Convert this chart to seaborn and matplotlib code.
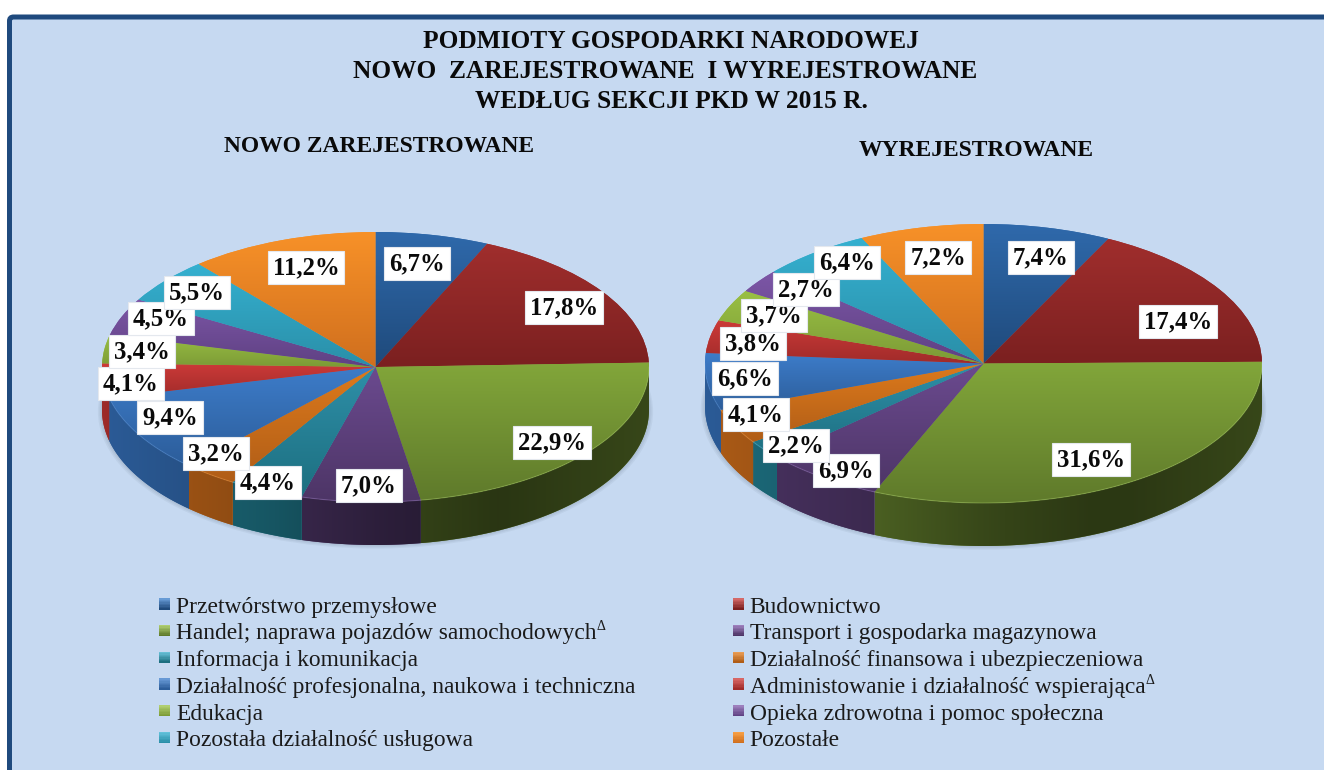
import numpy as np
import matplotlib
matplotlib.use("Agg")
import matplotlib.pyplot as plt
import matplotlib.patches as mp
from matplotlib.path import Path
from matplotlib.legend_handler import HandlerBase
from matplotlib.colors import to_rgb
import seaborn as sns

# ---------- data ----------
sections = ["Przetwórstwo przemysłowe", "Budownictwo",
            "Handel; naprawa pojazdów samochodowych", "Transport i gospodarka magazynowa",
            "Informacja i komunikacja", "Działalność finansowa i ubezpieczeniowa",
            "Działalność profesjonalna, naukowa i techniczna", "Administowanie i działalność wspierająca",
            "Edukacja", "Opieka zdrowotna i pomoc społeczna",
            "Pozostała działalność usługowa", "Pozostałe"]
registered = [6.7, 17.8, 22.9, 7.0, 4.4, 3.2, 9.4, 4.1, 3.4, 4.5, 5.5, 11.2]
deregistered = [7.4, 17.4, 31.6, 6.9, 2.2, 4.1, 6.6, 3.8, 3.7, 2.7, 6.4, 7.2]
title_lines = ["PODMIOTY GOSPODARKI NARODOWEJ", "NOWO  ZAREJESTROWANE  I WYREJESTROWANE", "WEDŁUG SEKCJI PKD W 2015 R."]
sub_left = "NOWO ZAREJESTROWANE"
sub_right = "WYREJESTROWANE"
footnote_mark = "Δ"

# ---------- styles ----------
top_cols = ["#2f69ab", "#a02e2d", "#82a63a", "#6b4a8f", "#2e8fa8", "#dd7a1c",
            "#3d7cc9", "#cc3a38", "#99bf44", "#7c56a6", "#35b0d0", "#f79128"]
bot_cols = ["#1f4a7b", "#7b2020", "#5f7a2b", "#4d3566", "#1d6f80", "#b05d17",
            "#2c5d9a", "#a02b2a", "#7c9b36", "#5f4183", "#2a8fa8", "#d06f1e"]
BG = "#C6D9F1"
FRAME = "#1F4A7E"
W, H = 1324, 770
pos_left = [(417, 261), (564, 305), (552, 440), (369, 483), (268, 480), (216, 451),
            (170, 415), (131, 381), (142, 349), (161, 316), (197, 290), (306, 265)]
pos_right = [(1041, 255), (1178, 319), (1091, 457), (846, 468), (796, 443), (756, 412),
             (745, 376), (753, 341), (774, 313), (806, 287), (847, 260), (938, 255)]
mark_pos = [(601, 627), (1150, 681)]

sns.set_theme(style="white")
plt.rcParams["font.family"] = ["Liberation Serif", "DejaVu Serif"]

fig = plt.figure(figsize=(W / 100, H / 100), dpi=100, facecolor="white")


def px_axes(z):
    a = fig.add_axes([0, 0, 1, 1], zorder=z)
    a.set_xlim(0, W)
    a.set_ylim(H, 0)
    a.axis("off")
    return a


back = px_axes(0)
front = px_axes(10)
back.add_patch(mp.FancyBboxPatch((9.5, 17), W + 40, H + 40, boxstyle="round,pad=0,rounding_size=4",
                                 fc=BG, ec=FRAME, lw=3.6))


def wall_factor(x):
    return np.interp(x, [-1, -0.4, 0.0, 0.45, 1], [0.98, 0.78, 0.58, 0.44, 0.58])


def gradient(ax, stops, extent, clip, z, vertical=True):
    pal = np.array(sns.blend_palette(stops, 64))
    arr = pal[:, None, :] if vertical else pal[None, :, :]
    im = ax.imshow(arr, extent=extent, origin="upper", aspect="auto",
                   interpolation="bilinear", zorder=z)
    im.set_clip_path(clip)


def pie3d(values, cx, cy, rx, ry, depth):
    d = depth / ry
    ax = fig.add_axes([(cx - rx) / W, 1 - (cy + ry + depth) / H, 2 * rx / W, (2 * ry + depth) / H], zorder=5)
    wedges, _ = ax.pie(values, startangle=90, counterclock=False, colors=top_cols, radius=1,
                       wedgeprops=dict(linewidth=0, zorder=3))
    for k in range(4):
        ax.add_patch(mp.Ellipse((0, -d - 0.004 * k), 2 + 0.01 * k, 2 + 0.01 * k, fc="#203040",
                                alpha=0.05, lw=0, zorder=1, clip_on=False))
    for i, w in enumerate(wedges):
        b = w.get_patch_transform().transform_path(w.get_path()).get_extents()
        gradient(ax, [top_cols[i], bot_cols[i]], (b.x0, b.x1, b.y0, b.y1), w, 3.5)
        for k in (-1, 0, 1):
            lo = max(w.theta1, 180 + 360 * k)
            hi = min(w.theta2, 360 + 360 * k)
            if hi <= lo:
                continue
            t = np.radians(np.linspace(lo, hi, 80))
            x, y = np.cos(t), np.sin(t)
            verts = np.r_[np.c_[x, y], np.c_[x[::-1], y[::-1] - d], [[x[0], y[0]]]]
            codes = [Path.MOVETO] + [Path.LINETO] * (len(verts) - 2) + [Path.CLOSEPOLY]
            patch = mp.PathPatch(Path(verts, codes), fc=bot_cols[i], lw=0, zorder=2)
            ax.add_patch(patch)
            base = np.array(to_rgb(bot_cols[i]))
            xs = np.linspace(x.min(), x.max(), 10)
            stops = [tuple(base * wall_factor(v)) for v in xs]
            gradient(ax, stops, (x.min(), x.max(), (y - d).min(), y.max()), patch, 2.5, vertical=False)
            ax.plot(x, y, color=sns.set_hls_values(top_cols[i], l=0.6), lw=0.8, alpha=0.4, zorder=4)
    ax.set_aspect("auto")
    ax.set_xlim(-1, 1)
    ax.set_ylim(-1 - d, 1)
    ax.axis("off")
    return ax


pie3d(registered, 375.5, 367, 273.5, 135, 43)
pie3d(deregistered, 983.5, 363.5, 278.5, 139.5, 43)

for y, line, cx in zip([41, 71, 101], title_lines, [671, 665, 671]):
    front.text(cx, y, line, ha="center", va="center", fontsize=18.3, fontweight="bold", color="#0a0a0a")
front.text(379, 146, sub_left, ha="center", va="center", fontsize=16.9, fontweight="bold", color="#0a0a0a")
front.text(976.5, 150, sub_right, ha="center", va="center", fontsize=16.9, fontweight="bold", color="#0a0a0a")

for vals, poss in ((registered, pos_left), (deregistered, pos_right)):
    for v, (x, y) in zip(vals, poss):
        front.text(x, y, f"{v:.1f}%".replace(".", ","), ha="center", va="center_baseline",
                   fontsize=17.8, fontweight="bold", color="#0a0a0a",
                   bbox=dict(boxstyle="square,pad=0.2", fc="white", ec="#e4e8ee", lw=0.8))
for (x, y) in mark_pos:
    front.text(x, y, footnote_mark, ha="center", va="center", fontsize=10, color="#1a1a1a")


class GradHandler(HandlerBase):
    def create_artists(self, legend, orig, xd, yd, width, height, fontsize, trans):
        side = 8.0
        n = 8
        top, bot = orig.grad
        pal = sns.blend_palette([sns.set_hls_values(top, l=0.62), bot], n)
        out = []
        y0 = -yd + (height - side) / 2 + 0.3
        for k in range(n):
            out.append(mp.Rectangle((-xd, y0 + side * (n - 1 - k) / n), side, side / n + 0.1,
                                    fc=pal[k], lw=0, transform=trans))
        return out


handles = []
for a, b in zip(top_cols, bot_cols):
    h = mp.Patch(facecolor=a)
    h.grad = (a, b)
    handles.append(h)
order = list(range(0, 12, 2)) + list(range(1, 12, 2))
fig.legend([handles[i] for i in order], [sections[i] for i in order], ncols=2,
           loc="upper left", bbox_to_anchor=(159 / W, 1 - 596 / H), frameon=False, borderpad=0, borderaxespad=0,
           fontsize=16.95, labelcolor="#1a1a1a", handlelength=0.72, handleheight=0.72, handletextpad=0,
           labelspacing=0.217, columnspacing=4.13,
           handler_map={mp.Patch: GradHandler()})

fig.savefig("out.png", dpi=100, facecolor="white")
